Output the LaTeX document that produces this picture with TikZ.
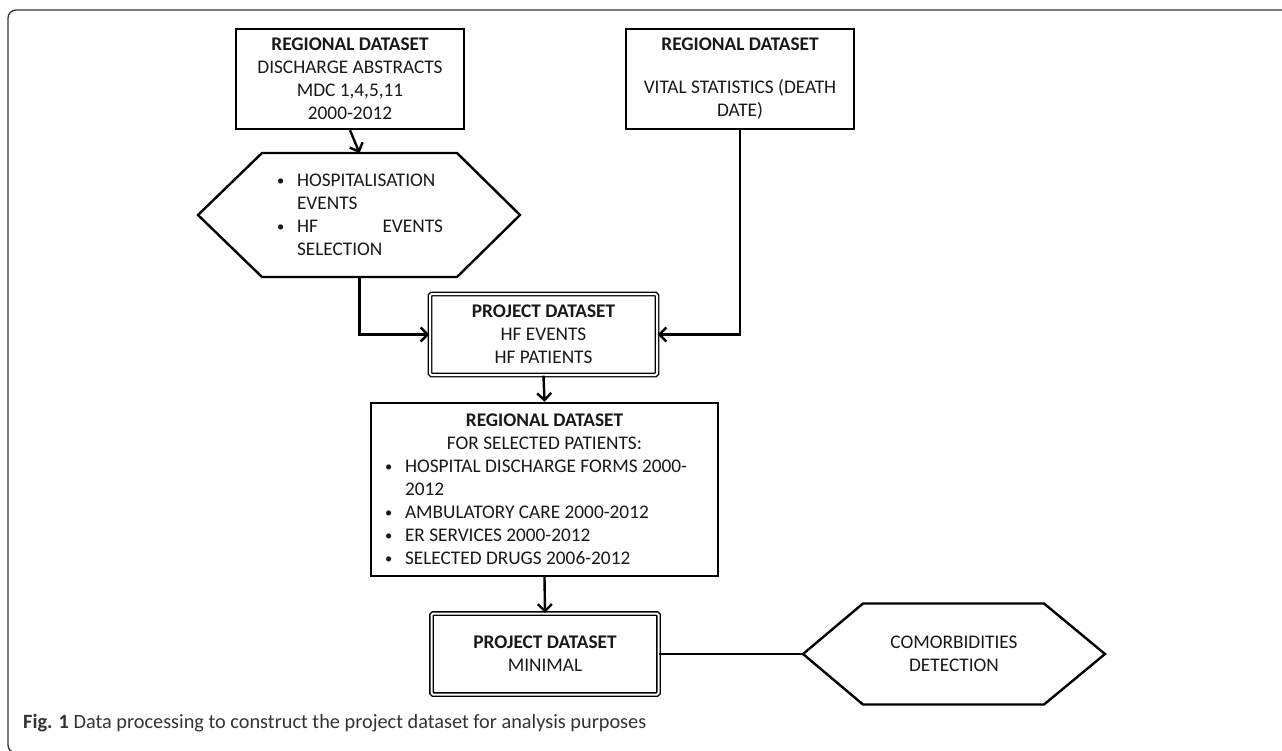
\documentclass[tikz,border=0pt]{standalone}
\usepackage{fontspec}
\setmainfont{Carlito}
\usetikzlibrary{arrows.meta}
\newcommand{\blt}{\makebox[20pt][l]{\raisebox{1pt}{\scalebox{0.75}{\textbullet}}}}
\newcommand{\ind}{\hspace*{20pt}}
\newcommand{\lline}[2]{\makebox[#1pt][l]{#2}}

\begin{document}
\begin{tikzpicture}[x=1pt,y=-1pt,
	txt/.style={font=\fontsize{19.3}{23}\selectfont, text=black!90, align=center, inner sep=0pt},
	regbox/.style={txt, draw, line width=2.4pt, minimum width=228, minimum height=100},
	projbox/.style={txt, draw, line width=1.4pt, double, double distance=2pt, rounded corners=1.5pt, minimum width=227, minimum height=81},
	hexline/.style={line width=2.4pt, line join=miter},
	link/.style={line width=2.4pt},
	arr/.style={link, -{Straight Barb[length=7pt,width=14pt]}}]
	% Page and frame
	\useasboundingbox (0,0) rectangle (1282,750);
	\clip (0,0) rectangle (1282,750);
	\fill[white] (0,0) rectangle (1282,750);
	\draw[black!80, line width=1.3pt, rounded corners=8pt] (1300,10) -- (8,10) -- (8,753) -- (40,753);
	% Source datasets
	\node[regbox] (discharge) at (350,79) {\textbf{REGIONAL DATASET}\\DISCHARGE ABSTRACTS\\MDC 1,4,5,11\\2000-2012};
	\node[regbox] (vital) at (740,79) {\textbf{REGIONAL DATASET}\\[20pt]VITAL STATISTICS (DEATH\\DATE)};
	% Selection step
	\draw[hexline] (198,215) -- (262,153) -- (457,153) -- (520,215) -- (457,277) -- (262,277) -- cycle;
	\coordinate (hospN) at (359.5,153);
	\coordinate (hospS) at (359.5,277);
	\node[txt] (hosp) at (360,215) {\lline{166}{\blt HOSPITALISATION}\\\lline{166}{\ind EVENTS}\\\lline{166}{\blt\makebox[146pt][l]{HF\hfill EVENTS}}\\\lline{166}{\ind SELECTION}};
	% Project datasets and regional extraction
	\node[projbox] (project) at (543.5,334.5) {\textbf{PROJECT DATASET}\\HF EVENTS\\HF PATIENTS};
	\node[regbox, minimum width=347, minimum height=173] (regional) at (544.5,489.5) {\textbf{REGIONAL DATASET}\\FOR SELECTED PATIENTS:\\
		\lline{319}{\blt HOSPITAL DISCHARGE FORMS 2000-}\\\lline{319}{\ind 2012}\\\lline{319}{\blt AMBULATORY CARE 2000-2012}\\
		\lline{319}{\blt ER SERVICES 2000-2012}\\\lline{319}{\blt SELECTED DRUGS 2006-2012}};
	\node[projbox] (minimal) at (545,654) {\textbf{PROJECT DATASET}\\MINIMAL};
	% Comorbidities step
	\draw[hexline] (803,654) -- (863,603.5) -- (1044,603.5) -- (1105,654) -- (1044,704.5) -- (863,704.5) -- cycle;
	\coordinate (comorbW) at (803,654);
	\node[txt] (comorb) at (954,654) {COMORBIDITIES\\DETECTION};
	% Connectors
	\draw[arr] (discharge.south) -- (hospN);
	\draw[arr] (hospS) |- (project.west);
	\draw[arr] (vital.south) |- (project.east);
	\draw[arr] (project.south) -- (regional.north);
	\draw[arr] (regional.south) -- (minimal.north);
	\draw[link] (minimal.east) -- (comorbW);
	% Caption
	\node[anchor=west, inner sep=0pt, font=\fontsize{20.3}{24}\selectfont, text=black!80] (caption) at (23,723) {\textbf{Fig. 1} Data processing to construct the project dataset for analysis purposes};
\end{tikzpicture}
\end{document}
